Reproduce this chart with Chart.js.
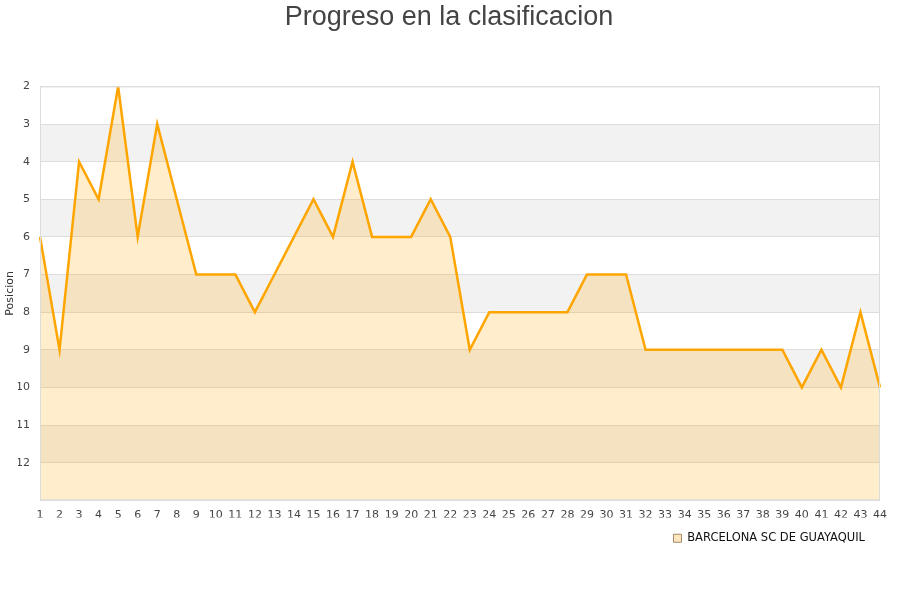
<!DOCTYPE html>
<html>
<head>
<meta charset="utf-8">
<script src="https://cdn.jsdelivr.net/npm/chart.js@4"></script>
<style>
  html, body { margin: 0; padding: 0; background: #fff; }
  #wrap { width: 900px; height: 600px; }
</style>
</head>
<body>
<div id="wrap"><canvas id="chartPosicion" width="900" height="600"></canvas></div>
<script>
// Jornadas y posiciones del equipo
const jornadas = ['1','2','3','4','5','6','7','8','9','10','11','12','13','14','15','16','17','18','19','20','21','22',
                  '23','24','25','26','27','28','29','30','31','32','33','34','35','36','37','38','39','40','41','42','43','44'];
const posiciones = [6, 9, 4, 5, 2, 6, 3, 5, 7, 7, 7, 8, 7, 6, 5, 6, 4, 6, 6, 6, 5, 6,
                    9, 8, 8, 8, 8, 8, 7, 7, 7, 9, 9, 9, 9, 9, 9, 9, 9, 10, 9, 10, 8, 10];
const equipo = 'BARCELONA SC DE GUAYAQUIL';
const ejeMin = 2;
const ejeMax = 13;

// franjas grises alternas detras de la grilla + marco del area
const franjas = {
    id: 'franjas',
    beforeDraw(chart) {
        const { ctx, chartArea, scales } = chart;
        const y = scales.y;
        ctx.save();
        ctx.fillStyle = '#f2f2f2';
        for (let v = ejeMin + 1; v < ejeMax; v += 2) {
            const a = y.getPixelForValue(v);
            const b = y.getPixelForValue(v + 1);
            ctx.fillRect(chartArea.left, a, chartArea.right - chartArea.left, b - a);
        }
        ctx.restore();
    },
    afterDatasetsDraw(chart) {
        const { ctx, chartArea } = chart;
        ctx.save();
        ctx.strokeStyle = '#dcdcdc';
        ctx.lineWidth = 1;
        ctx.strokeRect(chartArea.left + 0.5, chartArea.top + 0.5,
                       chartArea.right - chartArea.left - 1, chartArea.bottom - chartArea.top - 1);
        ctx.restore();
    }
};

document.addEventListener('DOMContentLoaded', () => {
    Chart.defaults.font.family = "'DejaVu Sans', sans-serif";
    Chart.defaults.color = '#444';

    new Chart(document.getElementById('chartPosicion'), {
        type: 'line',
        data: {
            labels: jornadas,
            datasets: [{
                label: equipo,
                data: posiciones,
                borderColor: '#ffa500',
                backgroundColor: 'rgba(255, 165, 0, 0.2)',
                borderWidth: 2.5,
                pointRadius: 0,
                fill: { value: ejeMax },
                tension: 0
            }]
        },
        options: {
            responsive: false,
            animation: false,
            layout: { padding: { top: 0, right: 20, bottom: 46, left: 18 } },
            plugins: {
                title: {
                    display: true,
                    text: 'Progreso en la clasificacion',
                    color: '#444',
                    font: { family: "'Liberation Sans', Arial, sans-serif", size: 27, weight: 'normal' },
                    padding: { top: 1, bottom: 53 }
                },
                legend: {
                    position: 'bottom',
                    align: 'end',
                    labels: {
                        boxWidth: 8,
                        boxHeight: 8,
                        color: '#111',
                        font: { size: 11.5 },
                        padding: 15,
                        generateLabels(chart) {
                            const items = Chart.defaults.plugins.legend.labels.generateLabels(chart);
                            items.forEach(it => {
                                it.fillStyle = '#ffe6bf';
                                it.strokeStyle = '#a08a6a';
                                it.lineWidth = 1;
                            });
                            return items;
                        }
                    }
                },
                tooltip: { enabled: false }
            },
            scales: {
                x: {
                    afterFit(scale) { scale.height -= 4; },
                    grid: { display: false },
                    border: { display: false },
                    ticks: { maxRotation: 0, autoSkip: false, font: { size: 11 }, color: '#444', padding: 0 }
                },
                y: {
                    reverse: true,
                    min: ejeMin,
                    max: ejeMax,
                    afterFit(scale) { scale.width = 22; },
                    grid: { color: '#dddddd', drawTicks: false },
                    border: { display: false },
                    ticks: {
                        stepSize: 1,
                        padding: 10,
                        font: { size: 11 },
                        color: '#444',
                        callback: v => (v === ejeMax ? '' : v)
                    },
                    title: { display: true, text: 'Posicion', font: { size: 11 }, color: '#333', padding: { top: -14, bottom: 0 } }
                }
            }
        },
        plugins: [franjas]
    });
});
</script>
</body>
</html>
